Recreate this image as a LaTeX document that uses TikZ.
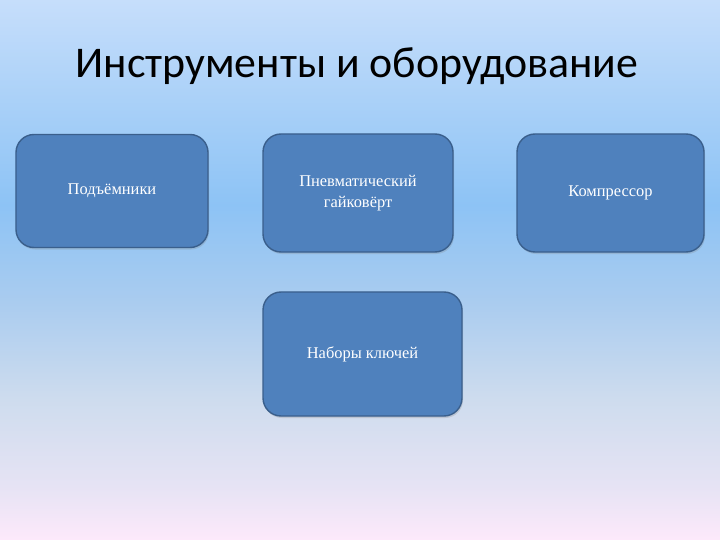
\documentclass[tikz,border=0pt]{standalone}
\usepackage{fontspec}
\setmainfont{Liberation Serif}
\newfontfamily\titlefont{Carlito}
\usetikzlibrary{shadows}

\definecolor{bgtop}{HTML}{C6DEFB}
\definecolor{bgblue}{HTML}{8DC3F5}
\definecolor{bgmid}{HTML}{AACCEF}
\definecolor{bglow}{HTML}{CEDCEE}
\definecolor{bgpink}{HTML}{E6E3F4}
\definecolor{bgbottom}{HTML}{FDE9FB}
\definecolor{boxfill}{HTML}{4F81BD}
\definecolor{boxline}{HTML}{3A5F8C}

% slide background, top to bottom
\pgfdeclareverticalshading{slidebg}{100bp}{color(0bp)=(bgbottom); color(25bp)=(bgbottom);
  color(30bp)=(bgpink); color(38bp)=(bglow); color(47bp)=(bgmid);
  color(56bp)=(bgblue); color(75bp)=(bgtop); color(100bp)=(bgtop)}

\tikzset{
  tool/.style={draw=boxline, line width=1.4bp, fill=boxfill, rounded corners=18bp,
    text=white, align=center, font=\fontsize{16.5}{21}\selectfont,
    drop shadow={shadow xshift=1bp, shadow yshift=-2bp, opacity=0.25}},
}

\begin{document}
\begin{tikzpicture}[x=1bp, y=-1bp]
  \useasboundingbox (0,0) rectangle (720,540);
  \shade[shading=slidebg] (0,0) rectangle (720,540);

  \node (title) at (357,66) {\titlefont\fontsize{44}{50}\selectfont Инструменты и оборудование};

  \node[tool, minimum width=192bp, minimum height=113bp] (lifts) at (112,191) {Подъёмники};
  \node[tool, minimum width=190bp, minimum height=118bp] (wrench) at (358,193) {Пневматический\\гайковёрт};
  \node[tool, minimum width=187bp, minimum height=118bp] (compressor) at (610.5,193) {Компрессор};
  \node[tool, minimum width=199bp, minimum height=124bp] (keys) at (362.5,354) {Наборы ключей};
\end{tikzpicture}
\end{document}
